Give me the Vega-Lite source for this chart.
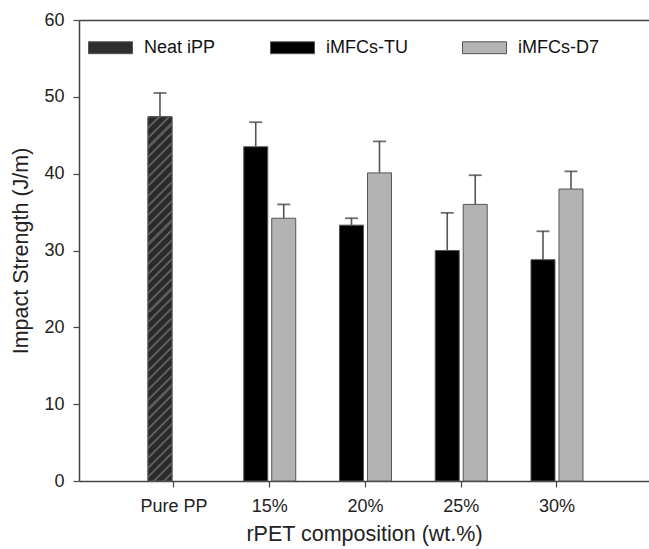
{
  "$schema": "https://vega.github.io/schema/vega-lite/v6.json",
  "width": 570,
  "height": 461,
  "autosize": "none",
  "padding": {"left": 79, "top": 20, "right": 0, "bottom": 68},
  "config": {
    "font": "Liberation Sans",
    "view": {"stroke": "transparent", "strokeWidth": 0},
    "axis": {"grid": false, "domainColor": "#444", "domainWidth": 1.5, "tickColor": "#444", "tickWidth": 1.2, "labelColor": "#222", "titleColor": "#222", "titleFontWeight": "normal"}
  },
  "data": {
    "values": [
      {"comp": "Pure PP", "series": "Neat iPP", "value": 47.4, "upper": 50.5},
      {"comp": "15%", "series": "iMFCs-TU", "value": 43.5, "upper": 46.7},
      {"comp": "15%", "series": "iMFCs-D7", "value": 34.2, "upper": 36.0},
      {"comp": "20%", "series": "iMFCs-TU", "value": 33.3, "upper": 34.2},
      {"comp": "20%", "series": "iMFCs-D7", "value": 40.1, "upper": 44.2},
      {"comp": "25%", "series": "iMFCs-TU", "value": 30.0, "upper": 34.9},
      {"comp": "25%", "series": "iMFCs-D7", "value": 36.0, "upper": 39.8},
      {"comp": "30%", "series": "iMFCs-TU", "value": 28.8, "upper": 32.5},
      {"comp": "30%", "series": "iMFCs-D7", "value": 38.0, "upper": 40.3}
    ]
  },
  "transform": [{"calculate": "datum.series === 'iMFCs-D7' ? 'R' : 'L'", "as": "slot"}],
  "resolve": {"axis": {"x": "independent"}},
  "encoding": {
    "xOffset": {"field": "slot", "type": "nominal", "sort": ["L", "R"], "scale": {"paddingInner": 0.142857, "paddingOuter": 0}}
  },
  "layer": [
    {
      "mark": {"type": "bar", "stroke": "#555", "strokeWidth": 1},
      "encoding": {
        "x": {
          "field": "comp", "type": "nominal",
          "sort": ["Pure PP", "15%", "20%", "25%", "30%"],
          "scale": {"paddingInner": 0.4569, "paddingOuter": 0.705, "align": 0.511},
          "title": "rPET composition (wt.%)",
          "axis": {"labelAngle": 0, "tickSize": 6, "labelFontSize": 18, "labelPadding": 10, "titleFontSize": 21.5, "titlePadding": 8, "bandPosition": 0.5}
        },
        "y": {
          "field": "value", "type": "quantitative",
          "scale": {"domain": [0, 60], "nice": false},
          "title": "Impact Strength (J/m)",
          "axis": {"values": [0, 10, 20, 30, 40, 50, 60], "tickSize": 6, "labelFontSize": 18, "labelPadding": 9, "titleFontSize": 21.5, "titlePadding": 11}
        },
        "color": {
          "field": "series", "type": "nominal",
          "scale": {"domain": ["Neat iPP", "iMFCs-TU", "iMFCs-D7"], "range": ["#2e2e2e", "#000000", "#b3b3b3"]},
          "legend": {"orient": "none", "legendX": 9, "legendY": 5, "direction": "horizontal", "title": null, "symbolType": "M-1,-0.27H1V0.27H-1Z", "symbolSize": 1936, "labelFontSize": 18, "labelOffset": 11, "columnPadding": 52, "symbolStrokeColor": "#555", "symbolStrokeWidth": 1, "labelColor": "#111", "padding": 0}
        }
      }
    },
    {
      "transform": [{"filter": "datum.series === 'Neat iPP'"}],
      "mark": {
        "type": "bar", "stroke": "#555", "strokeWidth": 1,
        "color": {
          "gradient": "linear", "x1": 0, "y1": 0, "x2": 0.0699, "y2": 1.0613,
          "stops": [
            {"offset": 0, "color": "#5a5a5a"}, {"offset": 0.008, "color": "#5a5a5a"}, {"offset": 0.008, "color": "#2a2a2a"}, {"offset": 0.025, "color": "#2a2a2a"},
            {"offset": 0.025, "color": "#5a5a5a"}, {"offset": 0.033, "color": "#5a5a5a"}, {"offset": 0.033, "color": "#2a2a2a"}, {"offset": 0.05, "color": "#2a2a2a"},
            {"offset": 0.05, "color": "#5a5a5a"}, {"offset": 0.058, "color": "#5a5a5a"}, {"offset": 0.058, "color": "#2a2a2a"}, {"offset": 0.075, "color": "#2a2a2a"},
            {"offset": 0.075, "color": "#5a5a5a"}, {"offset": 0.083, "color": "#5a5a5a"}, {"offset": 0.083, "color": "#2a2a2a"}, {"offset": 0.1, "color": "#2a2a2a"},
            {"offset": 0.1, "color": "#5a5a5a"}, {"offset": 0.108, "color": "#5a5a5a"}, {"offset": 0.108, "color": "#2a2a2a"}, {"offset": 0.125, "color": "#2a2a2a"},
            {"offset": 0.125, "color": "#5a5a5a"}, {"offset": 0.133, "color": "#5a5a5a"}, {"offset": 0.133, "color": "#2a2a2a"}, {"offset": 0.15, "color": "#2a2a2a"},
            {"offset": 0.15, "color": "#5a5a5a"}, {"offset": 0.158, "color": "#5a5a5a"}, {"offset": 0.158, "color": "#2a2a2a"}, {"offset": 0.175, "color": "#2a2a2a"},
            {"offset": 0.175, "color": "#5a5a5a"}, {"offset": 0.183, "color": "#5a5a5a"}, {"offset": 0.183, "color": "#2a2a2a"}, {"offset": 0.2, "color": "#2a2a2a"},
            {"offset": 0.2, "color": "#5a5a5a"}, {"offset": 0.208, "color": "#5a5a5a"}, {"offset": 0.208, "color": "#2a2a2a"}, {"offset": 0.225, "color": "#2a2a2a"},
            {"offset": 0.225, "color": "#5a5a5a"}, {"offset": 0.233, "color": "#5a5a5a"}, {"offset": 0.233, "color": "#2a2a2a"}, {"offset": 0.25, "color": "#2a2a2a"},
            {"offset": 0.25, "color": "#5a5a5a"}, {"offset": 0.258, "color": "#5a5a5a"}, {"offset": 0.258, "color": "#2a2a2a"}, {"offset": 0.275, "color": "#2a2a2a"},
            {"offset": 0.275, "color": "#5a5a5a"}, {"offset": 0.283, "color": "#5a5a5a"}, {"offset": 0.283, "color": "#2a2a2a"}, {"offset": 0.3, "color": "#2a2a2a"},
            {"offset": 0.3, "color": "#5a5a5a"}, {"offset": 0.308, "color": "#5a5a5a"}, {"offset": 0.308, "color": "#2a2a2a"}, {"offset": 0.325, "color": "#2a2a2a"},
            {"offset": 0.325, "color": "#5a5a5a"}, {"offset": 0.333, "color": "#5a5a5a"}, {"offset": 0.333, "color": "#2a2a2a"}, {"offset": 0.35, "color": "#2a2a2a"},
            {"offset": 0.35, "color": "#5a5a5a"}, {"offset": 0.358, "color": "#5a5a5a"}, {"offset": 0.358, "color": "#2a2a2a"}, {"offset": 0.375, "color": "#2a2a2a"},
            {"offset": 0.375, "color": "#5a5a5a"}, {"offset": 0.383, "color": "#5a5a5a"}, {"offset": 0.383, "color": "#2a2a2a"}, {"offset": 0.4, "color": "#2a2a2a"},
            {"offset": 0.4, "color": "#5a5a5a"}, {"offset": 0.408, "color": "#5a5a5a"}, {"offset": 0.408, "color": "#2a2a2a"}, {"offset": 0.425, "color": "#2a2a2a"},
            {"offset": 0.425, "color": "#5a5a5a"}, {"offset": 0.433, "color": "#5a5a5a"}, {"offset": 0.433, "color": "#2a2a2a"}, {"offset": 0.45, "color": "#2a2a2a"},
            {"offset": 0.45, "color": "#5a5a5a"}, {"offset": 0.458, "color": "#5a5a5a"}, {"offset": 0.458, "color": "#2a2a2a"}, {"offset": 0.475, "color": "#2a2a2a"},
            {"offset": 0.475, "color": "#5a5a5a"}, {"offset": 0.483, "color": "#5a5a5a"}, {"offset": 0.483, "color": "#2a2a2a"}, {"offset": 0.5, "color": "#2a2a2a"},
            {"offset": 0.5, "color": "#5a5a5a"}, {"offset": 0.508, "color": "#5a5a5a"}, {"offset": 0.508, "color": "#2a2a2a"}, {"offset": 0.525, "color": "#2a2a2a"},
            {"offset": 0.525, "color": "#5a5a5a"}, {"offset": 0.533, "color": "#5a5a5a"}, {"offset": 0.533, "color": "#2a2a2a"}, {"offset": 0.55, "color": "#2a2a2a"},
            {"offset": 0.55, "color": "#5a5a5a"}, {"offset": 0.558, "color": "#5a5a5a"}, {"offset": 0.558, "color": "#2a2a2a"}, {"offset": 0.575, "color": "#2a2a2a"},
            {"offset": 0.575, "color": "#5a5a5a"}, {"offset": 0.583, "color": "#5a5a5a"}, {"offset": 0.583, "color": "#2a2a2a"}, {"offset": 0.6, "color": "#2a2a2a"},
            {"offset": 0.6, "color": "#5a5a5a"}, {"offset": 0.608, "color": "#5a5a5a"}, {"offset": 0.608, "color": "#2a2a2a"}, {"offset": 0.625, "color": "#2a2a2a"},
            {"offset": 0.625, "color": "#5a5a5a"}, {"offset": 0.633, "color": "#5a5a5a"}, {"offset": 0.633, "color": "#2a2a2a"}, {"offset": 0.65, "color": "#2a2a2a"},
            {"offset": 0.65, "color": "#5a5a5a"}, {"offset": 0.658, "color": "#5a5a5a"}, {"offset": 0.658, "color": "#2a2a2a"}, {"offset": 0.675, "color": "#2a2a2a"},
            {"offset": 0.675, "color": "#5a5a5a"}, {"offset": 0.683, "color": "#5a5a5a"}, {"offset": 0.683, "color": "#2a2a2a"}, {"offset": 0.7, "color": "#2a2a2a"},
            {"offset": 0.7, "color": "#5a5a5a"}, {"offset": 0.708, "color": "#5a5a5a"}, {"offset": 0.708, "color": "#2a2a2a"}, {"offset": 0.725, "color": "#2a2a2a"},
            {"offset": 0.725, "color": "#5a5a5a"}, {"offset": 0.733, "color": "#5a5a5a"}, {"offset": 0.733, "color": "#2a2a2a"}, {"offset": 0.75, "color": "#2a2a2a"},
            {"offset": 0.75, "color": "#5a5a5a"}, {"offset": 0.758, "color": "#5a5a5a"}, {"offset": 0.758, "color": "#2a2a2a"}, {"offset": 0.775, "color": "#2a2a2a"},
            {"offset": 0.775, "color": "#5a5a5a"}, {"offset": 0.783, "color": "#5a5a5a"}, {"offset": 0.783, "color": "#2a2a2a"}, {"offset": 0.8, "color": "#2a2a2a"},
            {"offset": 0.8, "color": "#5a5a5a"}, {"offset": 0.808, "color": "#5a5a5a"}, {"offset": 0.808, "color": "#2a2a2a"}, {"offset": 0.825, "color": "#2a2a2a"},
            {"offset": 0.825, "color": "#5a5a5a"}, {"offset": 0.833, "color": "#5a5a5a"}, {"offset": 0.833, "color": "#2a2a2a"}, {"offset": 0.85, "color": "#2a2a2a"},
            {"offset": 0.85, "color": "#5a5a5a"}, {"offset": 0.858, "color": "#5a5a5a"}, {"offset": 0.858, "color": "#2a2a2a"}, {"offset": 0.875, "color": "#2a2a2a"},
            {"offset": 0.875, "color": "#5a5a5a"}, {"offset": 0.883, "color": "#5a5a5a"}, {"offset": 0.883, "color": "#2a2a2a"}, {"offset": 0.9, "color": "#2a2a2a"},
            {"offset": 0.9, "color": "#5a5a5a"}, {"offset": 0.908, "color": "#5a5a5a"}, {"offset": 0.908, "color": "#2a2a2a"}, {"offset": 0.925, "color": "#2a2a2a"},
            {"offset": 0.925, "color": "#5a5a5a"}, {"offset": 0.933, "color": "#5a5a5a"}, {"offset": 0.933, "color": "#2a2a2a"}, {"offset": 0.95, "color": "#2a2a2a"},
            {"offset": 0.95, "color": "#5a5a5a"}, {"offset": 0.958, "color": "#5a5a5a"}, {"offset": 0.958, "color": "#2a2a2a"}, {"offset": 0.975, "color": "#2a2a2a"},
            {"offset": 0.975, "color": "#5a5a5a"}, {"offset": 0.983, "color": "#5a5a5a"}, {"offset": 0.983, "color": "#2a2a2a"}, {"offset": 1, "color": "#2a2a2a"}
          ]
        }
      },
      "encoding": {
        "x": {"field": "comp", "type": "nominal", "sort": ["Pure PP", "15%", "20%", "25%", "30%"], "axis": null},
        "y": {"field": "value", "type": "quantitative"}
      }
    },
    {
      "mark": {"type": "rule", "color": "#555", "strokeWidth": 1.6},
      "encoding": {
        "x": {"field": "comp", "type": "nominal", "sort": ["Pure PP", "15%", "20%", "25%", "30%"], "axis": null},
        "y": {"field": "value", "type": "quantitative"},
        "y2": {"field": "upper"}
      }
    },
    {
      "mark": {"type": "tick", "orient": "horizontal", "size": 13, "thickness": 1.8, "color": "#333"},
      "encoding": {
        "x": {"field": "comp", "type": "nominal", "sort": ["Pure PP", "15%", "20%", "25%", "30%"], "axis": {"orient": "top", "labels": false, "ticks": false, "title": null, "domain": true}},
        "y": {"field": "upper", "type": "quantitative"}
      }
    }
  ]
}
